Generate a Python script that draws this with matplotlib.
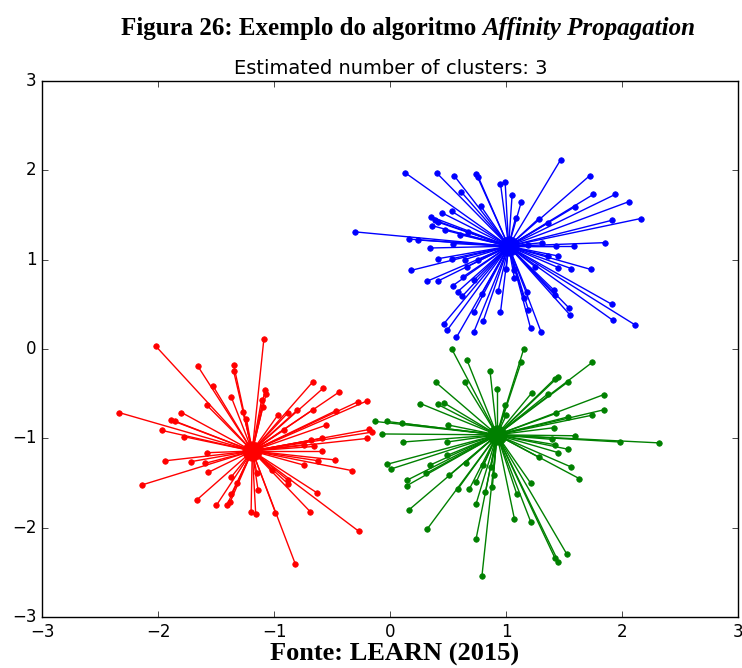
import matplotlib
matplotlib.use('Agg')
import matplotlib.pyplot as plt

# cluster centres
centers_x = [1.02, -1.19, 0.92]
centers_y = [1.15, -1.14, -0.96]
colors = ['b', 'r', 'g']

blue_x = [1.47, 1.72, 0.13, 0.40, 0.55, 0.74, 0.76, 0.95, 0.99, 1.05, 1.13, 0.61, 0.78, 0.53,
          0.45, 0.35, 0.385, 0.36, 0.41, 0.47, -0.30, 0.16, 0.24, 0.34, 0.54, 0.60, 0.67, 1.08,
          1.28, 1.36, 1.59, 1.75, 1.94, 2.06, 2.16, 1.91, 1.85, 1.58, 1.43, 1.31, 1.19, 1.45,
          1.36, 1.45, 1.56, 1.73, 1.25, 0.41, 0.53, 0.64, 0.76, 0.18, 0.32, 0.41, 0.54, 0.63,
          0.66, 0.72, 0.58, 0.62, 0.79, 0.93, 1.00, 1.07, 1.18, 1.15, 1.19, 1.41, 1.42, 1.54,
          1.55, 1.91, 1.92, 2.11, 0.46, 0.49, 0.57, 0.72, 0.72, 0.80, 0.95, 1.21, 1.30, 1.07]
blue_y = [2.12, 1.94, 1.97, 1.97, 1.94, 1.96, 1.92, 1.85, 1.87, 1.72, 1.65, 1.76, 1.60, 1.54,
          1.52, 1.48, 1.44, 1.38, 1.42, 1.33, 1.31, 1.23, 1.22, 1.13, 1.18, 1.28, 1.31, 1.47,
          1.46, 1.41, 1.59, 1.73, 1.73, 1.65, 1.46, 1.44, 1.19, 1.15, 1.15, 1.19, 1.16, 1.04,
          1.04, 0.91, 0.90, 0.89, 0.92, 1.01, 1.01, 1.00, 1.00, 0.88, 0.76, 0.76, 0.71, 0.81,
          0.92, 0.77, 0.64, 0.59, 0.62, 0.65, 0.90, 0.79, 0.64, 0.57, 0.44, 0.66, 0.60, 0.46,
          0.38, 0.50, 0.32, 0.27, 0.28, 0.21, 0.13, 0.41, 0.19, 0.31, 0.41, 0.23, 0.19, 0.88]

red_x = [-2.02, -1.09, -1.66, -1.35, -1.35, -1.53, -1.37, -1.58, -2.34, -1.80, -1.89, -1.86,
         -1.97, -1.78, -1.27, -1.24, -1.08, -1.07, -1.11, -1.10, -0.67, -0.58, -0.44, -0.28,
         -0.20, -0.47, -0.67, -0.80, -0.88, -0.97, -0.92, -0.55, -0.18, -0.16, -0.20, -0.59,
         -0.68, -0.74, -0.66, -0.59, -0.48, -0.62, -0.74, -0.33, -1.94, -1.72, -1.58, -1.60,
         -1.57, -2.14, -1.67, -1.50, -1.41, -1.38, -1.37, -1.32, -1.37, -1.20, -1.16, -1.14,
         -1.15, -0.99, -0.82, -0.27, -0.63, -0.69, -0.88, -0.88, -1.02]
red_y = [0.03, 0.11, -0.19, -0.18, -0.25, -0.41, -0.54, -0.63, -0.71, -0.71, -0.79, -0.81,
         -0.91, -0.98, -0.70, -0.78, -0.46, -0.50, -0.57, -0.65, -0.37, -0.44, -0.48, -0.59,
         -0.58, -0.69, -0.68, -0.68, -0.71, -0.74, -0.91, -0.85, -0.90, -0.93, -1.00, -1.00,
         -1.02, -1.07, -1.09, -1.14, -1.24, -1.25, -1.30, -1.36, -1.25, -1.26, -1.16, -1.28,
         -1.38, -1.52, -1.69, -1.75, -1.75, -1.71, -1.62, -1.50, -1.43, -1.82, -1.85, -1.58,
         -1.39, -1.83, -2.40, -2.04, -1.61, -1.82, -1.51, -1.47, -1.35]

green_x = [0.53, 1.15, 1.13, 0.66, 0.86, 0.92, 1.74, 1.45, 1.42, 1.53, 1.22, 1.36, 0.64, 0.39,
           0.26, 0.41, 0.46, 0.99, 1.00, 1.84, 1.84, 1.74, 1.43, 1.53, -0.13, -0.03, 0.10, 0.50,
           1.41, 1.59, 1.39, 1.98, 2.32, -0.07, 0.11, 0.49, 1.42, 1.53, 1.45, 1.28, 1.56, 1.63,
           -0.03, 0.01, 0.34, 0.31, 0.14, 0.14, 0.49, 0.51, 0.65, 0.58, 0.68, 0.74, 0.74, 0.80,
           0.82, 0.89, 0.88, 0.87, 0.16, 0.32, 0.74, 0.79, 1.07, 1.21, 1.09, 1.21, 1.52, 1.42, 1.45]
green_y = [0.00, 0.00, -0.14, -0.12, -0.25, -0.45, -0.15, -0.31, -0.33, -0.37, -0.49, -0.50,
           -0.37, -0.37, -0.61, -0.62, -0.60, -0.63, -0.74, -0.51, -0.68, -0.74, -0.72, -0.76,
           -0.81, -0.81, -0.83, -0.85, -0.88, -0.97, -1.01, -1.04, -1.05, -0.95, -1.04, -1.04,
           -1.07, -1.12, -1.16, -1.21, -1.32, -1.45, -1.29, -1.34, -1.30, -1.39, -1.47, -1.53,
           -1.19, -1.41, -1.27, -1.57, -1.57, -1.49, -1.73, -1.30, -1.60, -1.41, -1.54, -1.32,
           -1.80, -2.01, -2.12, -2.54, -1.90, -1.93, -1.62, -1.50, -2.29, -2.34, -2.38]

members_x = [blue_x, red_x, green_x]
members_y = [blue_y, red_y, green_y]

plt.style.use('classic')
fig = plt.figure(figsize=(7.42, 6.68), dpi=100, facecolor='white')
ax = fig.add_axes([0.057, 0.076, 0.938, 0.803])
ax.set_facecolor('white')

for k in range(3):
    cx, cy, col = centers_x[k], centers_y[k], colors[k]
    for x, y in zip(members_x[k], members_y[k]):
        ax.plot([cx, x], [cy, y], col, lw=1)
    ax.plot(members_x[k], members_y[k], col + '.', markersize=8)
    ax.plot(cx, cy, 'o', markerfacecolor=col, markeredgecolor=col, markersize=14)

ax.set_xlim(-3, 3)
ax.set_ylim(-3, 3)
ax.set_title('Estimated number of clusters: 3', fontsize=14)
ax.tick_params(labelsize=12)

# caption lines in serif, like the source document
fig.canvas.draw()
r = fig.canvas.get_renderer()
t1 = fig.text(0.5, 0.957, 'Figura 26: Exemplo do algoritmo ', family='Liberation Serif',
              weight='bold', fontsize=18, ha='left', va='center')
t2 = fig.text(0.5, 0.957, 'Affinity Propagation', family='Liberation Serif',
              weight='bold', style='italic', fontsize=18, ha='left', va='center')
w1 = t1.get_window_extent(r).width
w2 = t2.get_window_extent(r).width
x0 = 408 - (w1 + w2) / 2
t1.set_x(x0 / 742)
t2.set_x((x0 + w1) / 742)

fig.text(395 / 742, 0.02, 'Fonte: LEARN (2015)', family='Liberation Serif',
         weight='bold', fontsize=19, ha='center', va='center')

fig.savefig('out.png', dpi=100, facecolor='white')
